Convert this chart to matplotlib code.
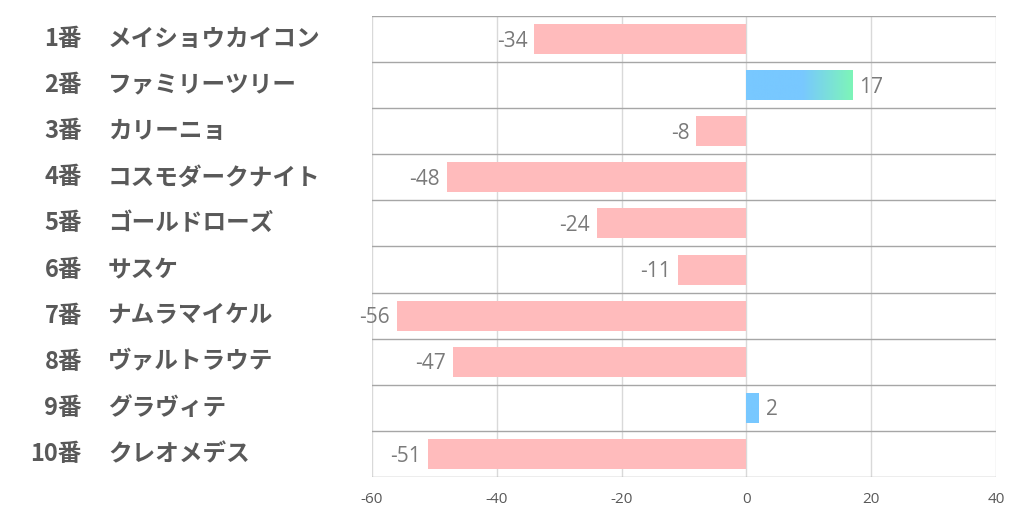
import numpy as np
import matplotlib.pyplot as plt
from matplotlib.colors import LinearSegmentedColormap

plt.rcParams['font.family'] = ['Noto Sans CJK JP', 'DejaVu Sans']

nums = ['1番', '2番', '3番', '4番', '5番', '6番', '7番', '8番', '9番', '10番']
names = ['メイショウカイコン', 'ファミリーツリー', 'カリーニョ', 'コスモダークナイト', 'ゴールドローズ',
         'サスケ', 'ナムラマイケル', 'ヴァルトラウテ', 'グラヴィテ', 'クレオメデス']
values = [-34, 17, -8, -48, -24, -11, -56, -47, 2, -51]
xticks = [-60, -40, -20, 0, 20, 40]

fig = plt.figure(figsize=(10.22, 5.22), dpi=100)
ax = fig.add_axes([372/1022, 1-477/522, (996-372)/1022, (477-16)/522])

pink = '#ffbbbc'
blue = '#78c8ff'
green = '#7df5b8'
cmap = LinearSegmentedColormap.from_list('bg', [blue, green])

y = np.arange(len(values))
h = 0.65
bars = ax.barh(y, values, height=h, color=[pink if v < 0 else blue for v in values], zorder=3)

# gradient on the positive bars: blue up to ~9, green at 17
grad = np.linspace(0, 17, 300)
grad_vals = np.clip((grad - 9) / 8, 0, 1).reshape(1, -1)
for b, v, yy in zip(bars, values, y):
    if v > 0:
        im = ax.imshow(grad_vals, cmap=cmap, vmin=0, vmax=1, aspect='auto',
                       extent=[0, 17, yy + h/2, yy - h/2], zorder=4)
        im.set_clip_path(b)

numfont = ['Open Sans', 'DejaVu Sans']
for v, yy in zip(values, y):
    if v < 0:
        ax.annotate(str(v), (v, yy), xytext=(-5, -1.5), textcoords='offset points',
                    ha='right', va='center', fontsize=15, color='#7a7a7a', family=numfont)
    else:
        ax.annotate(str(v), (v, yy), xytext=(5, -1.5), textcoords='offset points',
                    ha='left', va='center', fontsize=15, color='#7a7a7a', family=numfont)

ax.set_xlim(-60, 40)
ax.set_ylim(len(values) - 0.5, -0.5)
ax.set_xticks(xticks)
ax.set_xticklabels([str(t) for t in xticks], fontsize=11, color='#595959', family=numfont)
ax.tick_params(axis='x', length=0, pad=11)
ax.set_yticks([])
for s in ax.spines.values():
    s.set_visible(False)

for t in xticks:
    ax.axvline(t, color='#d9d9d9', lw=1, zorder=1)
for k in range(len(values) + 1):
    ax.axhline(k - 0.5, color='#a6a6a6', lw=1, zorder=2)

for n, nm, yy in zip(nums, names, y):
    yf = ax.transData.transform((0, yy))[1]
    yfig = fig.transFigure.inverted().transform((0, yf))[1]
    fig.text(82/1022, yfig, n, ha='right', va='center', fontsize=17,
             fontweight='bold', color='#595959')
    fig.text(108/1022, yfig, nm, ha='left', va='center', fontsize=17,
             fontweight='bold', color='#595959')

fig.savefig('out.png', dpi=100)
